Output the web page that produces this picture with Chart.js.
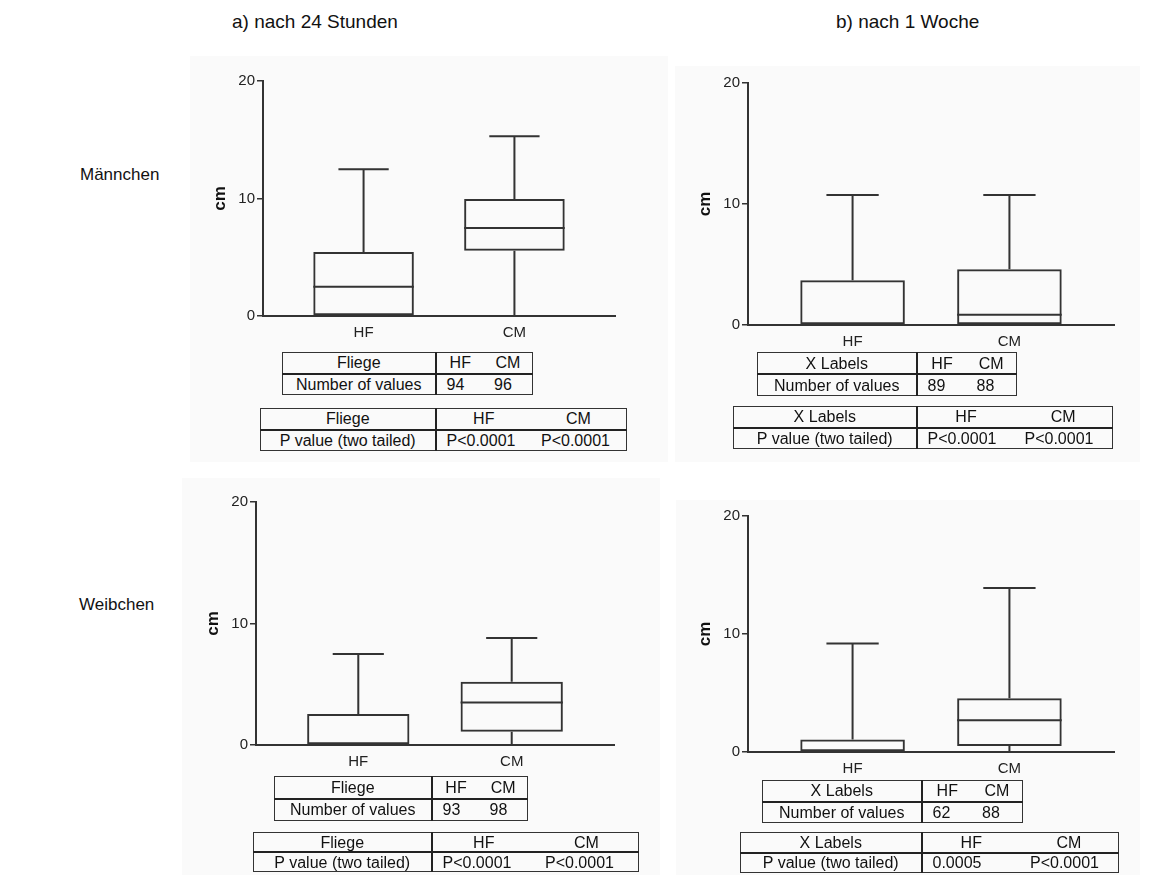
<!DOCTYPE html>
<html>
<head>
<meta charset="utf-8">
<script src="https://cdn.jsdelivr.net/npm/chart.js@4.4.1/dist/chart.umd.min.js"></script>
<style>
  body { margin: 0; background: #fff; font-family: "Liberation Sans", Arial, sans-serif; color: #111; }
  #page { position: relative; width: 1157px; height: 875px; overflow: hidden; }
  .bg { position: absolute; background: #fafafa; }
  .lbl { position: absolute; font-size: 19px; line-height: 20px; white-space: nowrap; }
  .row { font-size: 17px; }
  canvas { position: absolute; }
  table.t { position: absolute; border-collapse: collapse; table-layout: fixed; font-size: 16px; color: #111; }
  table.t td { border: 1px solid #333; padding: 0; line-height: 17px; white-space: nowrap; overflow: hidden; }
  table.t td.lab { text-align: center; border-right: 2px solid #222; }
  table.t td.hd { text-align: center; border-left: none; border-right: none; }
  table.t td.val { text-align: left; padding-left: 10px; border-left: none; border-right: none; }
  table.t tr.top td { border-bottom: 2px solid #222; }
  table.t td.last { border-right: 1px solid #333; }
</style>
</head>
<body>
<div id="page">
  <div class="bg" style="left:190px;top:56px;width:478px;height:406px"></div>
  <div class="bg" style="left:675px;top:66px;width:465px;height:396px"></div>
  <div class="bg" style="left:182px;top:478px;width:478px;height:397px"></div>
  <div class="bg" style="left:676px;top:500px;width:464px;height:375px"></div>

  <div class="lbl" style="left:232px;top:12px">a) nach 24 Stunden</div>
  <div class="lbl" style="left:836px;top:12px">b) nach 1 Woche</div>
  <div class="lbl row" style="left:80px;top:165px">Männchen</div>
  <div class="lbl row" style="left:79px;top:595px">Weibchen</div>

  <canvas id="m24" width="433" height="281" style="left:188px;top:67px"></canvas>
  <canvas id="m1w" width="447" height="288" style="left:673px;top:69px"></canvas>
  <canvas id="w24" width="439" height="289" style="left:181px;top:488px"></canvas>
  <canvas id="w1w" width="447" height="282" style="left:673px;top:502px"></canvas>
</div>

<script>
const groups = ["HF", "CM"];
const yTicks = [0, 10, 20];

// Männchen, nach 24 Stunden
const m24Min = [0, 0];
const m24Q1 = [0, 5.55];
const m24Med = [2.5, 7.5];
const m24Q3 = [5.45, 9.95];
const m24Max = [12.5, 15.3];

// Männchen, nach 1 Woche
const m1wMin = [0, 0];
const m1wQ1 = [0, 0];
const m1wMed = [0, 0.85];
const m1wQ3 = [3.7, 4.6];
const m1wMax = [10.75, 10.75];

// Weibchen, nach 24 Stunden
const w24Min = [0, 0];
const w24Q1 = [0, 1.1];
const w24Med = [0, 3.5];
const w24Q3 = [2.55, 5.2];
const w24Max = [7.5, 8.8];

// Weibchen, nach 1 Woche
const w1wMin = [0, 0];
const w1wQ1 = [0, 0.5];
const w1wMed = [0, 2.7];
const w1wQ3 = [1.05, 4.55];
const w1wMax = [9.2, 13.9];

// table contents
const nM24 = [94, 96];
const nM1w = [89, 88];
const nW24 = [93, 98];
const nW1w = [62, 88];
const pM24 = ["P<0.0001", "P<0.0001"];
const pM1w = ["P<0.0001", "P<0.0001"];
const pW24 = ["P<0.0001", "P<0.0001"];
const pW1w = ["0.0005", "P<0.0001"];

const FONT = "'Liberation Sans', Arial, sans-serif";
const INK = "#333";

// whiskers, caps and median line on top of the floating bars
const boxWhiskers = {
  id: "boxWhiskers",
  afterDatasetsDraw(chart, args, opts) {
    const { ctx } = chart;
    const y = chart.scales.y;
    const bars = chart.getDatasetMeta(0).data;
    ctx.save();
    ctx.strokeStyle = INK;
    ctx.lineWidth = 2;
    bars.forEach((bar, i) => {
      const cx = bar.x;
      const half = bar.width / 2;
      const cap = bar.width / 4;
      const py = (v) => y.getPixelForValue(v);
      ctx.beginPath();
      // upper whisker + cap
      ctx.moveTo(cx, py(opts.q3[i]));
      ctx.lineTo(cx, py(opts.max[i]));
      ctx.moveTo(cx - cap, py(opts.max[i]));
      ctx.lineTo(cx + cap, py(opts.max[i]));
      // lower whisker + cap
      ctx.moveTo(cx, py(opts.q1[i]));
      ctx.lineTo(cx, py(opts.min[i]));
      ctx.moveTo(cx - cap, py(opts.min[i]));
      ctx.lineTo(cx + cap, py(opts.min[i]));
      // median
      ctx.moveTo(cx - half, py(opts.med[i]));
      ctx.lineTo(cx + half, py(opts.med[i]));
      ctx.stroke();
    });
    ctx.restore();
  },
};

function boxChart(id, min, q1, med, q3, max) {
  new Chart(document.getElementById(id), {
    type: "bar",
    data: {
      datasets: [
        {
          data: groups.map((g, i) => ({ x: i + 1, y: [q1[i], q3[i]] })),
          backgroundColor: "rgba(0,0,0,0)",
          borderColor: INK,
          borderWidth: 2,
          borderSkipped: false,
          barPercentage: 2 / 3,
          categoryPercentage: 1,
        },
      ],
    },
    options: {
      responsive: false,
      animation: false,
      devicePixelRatio: 1,
      layout: { padding: { top: 14, right: 6, left: 0, bottom: 0 } },
      plugins: {
        legend: { display: false },
        tooltip: { enabled: false },
        boxWhiskers: { min, q1, med, q3, max },
      },
      scales: {
        x: {
          type: "linear",
          offset: false,
          min: 1 / 3,
          max: 8 / 3,
          afterBuildTicks: (axis) => {
            axis.ticks = groups.map((g, i) => ({ value: i + 1 }));
          },
          afterFit: (axis) => {
            axis.height = 32;
          },
          grid: { display: false, drawTicks: false, offset: false },
          border: { display: true, color: INK, width: 2 },
          ticks: {
            padding: 8,
            color: "#222",
            font: { family: FONT, size: 15 },
            callback: (v) => groups[v - 1],
          },
        },
        y: {
          min: yTicks[0],
          max: yTicks[yTicks.length - 1],
          afterBuildTicks: (axis) => {
            axis.ticks = yTicks.map((v) => ({ value: v }));
          },
          afterFit: (axis) => {
            axis.width = 75;
          },
          grid: { drawOnChartArea: false, drawTicks: true, tickLength: 6, color: INK, lineWidth: 1.5 },
          border: { display: true, color: INK, width: 2 },
          ticks: { padding: 2, color: "#222", font: { family: FONT, size: 15 } },
          title: {
            display: true,
            text: "cm",
            color: "#111",
            padding: { top: 22, bottom: 0 },
            font: { family: FONT, size: 17, weight: "bold" },
          },
        },
      },
    },
    plugins: [boxWhiskers],
  });
}

boxChart("m24", m24Min, m24Q1, m24Med, m24Q3, m24Max);
boxChart("m1w", m1wMin, m1wQ1, m1wMed, m1wQ3, m1wMax);
boxChart("w24", w24Min, w24Q1, w24Med, w24Q3, w24Max);
boxChart("w1w", w1wMin, w1wQ1, w1wMed, w1wQ3, w1wMax);

// GraphPad-style tables under each graph
function makeTable(left, top, right, divider, height, head, rowLabel, vals) {
  const t = document.createElement("table");
  t.className = "t";
  const w = right - left;
  const sub = (right - divider) / 2;
  t.style.left = left + "px";
  t.style.top = top + "px";
  t.style.width = w + "px";
  t.style.height = height + "px";
  const cg = document.createElement("colgroup");
  [divider - left, sub, sub].forEach((cw) => {
    const c = document.createElement("col");
    c.style.width = cw + "px";
    cg.appendChild(c);
  });
  t.appendChild(cg);
  const r1 = t.insertRow();
  r1.className = "top";
  const r2 = t.insertRow();
  const a = r1.insertCell();
  a.className = "lab";
  a.textContent = head;
  groups.forEach((g, i) => {
    const c = r1.insertCell();
    c.className = "hd" + (i === groups.length - 1 ? " last" : "");
    c.textContent = g;
  });
  const b = r2.insertCell();
  b.className = "lab";
  b.textContent = rowLabel;
  vals.forEach((v, i) => {
    const c = r2.insertCell();
    c.className = "val" + (i === vals.length - 1 ? " last" : "");
    c.textContent = v;
  });
  document.getElementById("page").appendChild(t);
}

makeTable(282, 352, 532, 435, 43, "Fliege", "Number of values", nM24);
makeTable(260, 408, 626, 435, 43, "Fliege", "P value (two tailed)", pM24);
makeTable(757, 352, 1016, 916, 44, "X Labels", "Number of values", nM1w);
makeTable(733, 406, 1112, 916, 43, "X Labels", "P value (two tailed)", pM1w);
makeTable(274, 776, 527, 431, 45, "Fliege", "Number of values", nW24);
makeTable(253, 832, 638, 431, 40, "Fliege", "P value (two tailed)", pW24);
makeTable(762, 780, 1022, 921, 43, "X Labels", "Number of values", nW1w);
makeTable(740, 832, 1118, 921, 41, "X Labels", "P value (two tailed)", pW1w);
</script>
</body>
</html>
